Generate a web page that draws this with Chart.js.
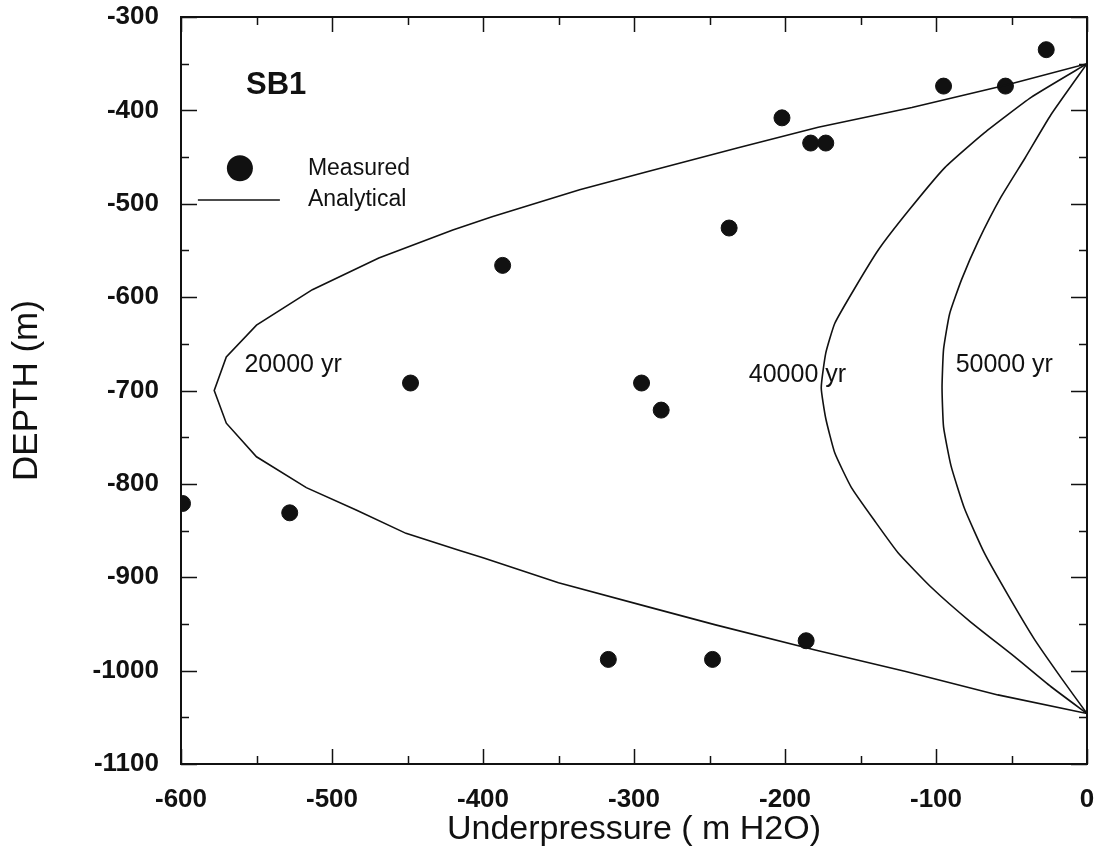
<!DOCTYPE html>
<html>
<head>
<meta charset="utf-8">
<script src="https://cdn.jsdelivr.net/npm/chart.js@4"></script>
<style>
  html, body { margin: 0; padding: 0; background: #fff; }
</style>
</head>
<body>
<canvas id="chart" width="1096" height="850"></canvas>
<script>
// axis ranges
const xMin = -600, xMax = 0;
const yMin = -1100, yMax = -300;

// measured underpressure (m H2O) and depth (m)
const measuredPressure = [-27, -95, -54, -202, -183, -173, -237, -387, -448, -295, -282, -599, -528, -186, -317, -248];
const measuredDepth = [-335, -374, -374, -408, -435, -435, -526, -566, -692, -692, -721, -821, -831, -968, -988, -988];

// analytical curves, 20000 yr
const p20000 = [0, -54, -116, -178, -231, -292, -336, -394, -420, -469, -513, -550, -570, -578, -570, -550, -517, -484, -451, -416, -400, -350, -290, -246, -180, -120, -59, 0];
const d20000 = [-350, -373, -397, -418, -440, -466, -485, -514, -528, -558, -592, -630, -664, -700, -735, -771, -804, -828, -853, -871, -879, -906, -932, -951, -978, -1001, -1026, -1046];

// 40000 yr
const p40000 = [0, -37, -68, -94, -118, -138, -154, -167, -173, -176, -173, -167, -156, -140, -125, -103, -77, -48, -24, 0];
const d40000 = [-350, -386, -424, -461, -507, -549, -591, -628, -660, -697, -730, -767, -804, -841, -874, -911, -948, -985, -1017, -1046];

// 50000 yr
const p50000 = [0, -24, -41, -57, -72, -83, -91, -95, -96, -95, -90, -81, -68, -52, -35, -17, 0];
const d50000 = [-350, -405, -451, -493, -540, -581, -618, -656, -697, -739, -781, -827, -874, -920, -966, -1008, -1046];

// text placed in data coordinates
const curveLabels = [
  { text: '20000 yr', x: -558, y: -673 },
  { text: '40000 yr', x: -224, y: -683 },
  { text: '50000 yr', x: -87, y: -673 }
];
const titleLabel = { text: 'SB1', x: -537, y: -373 };
const legendItems = [
  { text: 'Measured', x: -561, y: -462, kind: 'point' },
  { text: 'Analytical', x: -561, y: -496, kind: 'line' }
];

const ink = '#111';
const FONT = '"Liberation Sans", Arial, sans-serif';

function pts(xs, ys) {
  return xs.map((x, i) => ({ x: x, y: ys[i] }));
}

function noPadding(s) {
  s.paddingTop = 0; s.paddingBottom = 0;
  s.paddingLeft = 0; s.paddingRight = 0;
}

const framePlugin = {
  id: 'frame',
  afterDatasetsDraw(c) {
    const ctx = c.ctx;
    const xs = c.scales.x, ys = c.scales.y;
    const a = c.chartArea;
    ctx.save();
    ctx.strokeStyle = ink;
    ctx.lineWidth = 2;
    ctx.strokeRect(a.left, a.top, a.right - a.left, a.bottom - a.top);

    ctx.lineWidth = 1.5;
    for (let v = xMin; v <= xMax; v += 50) {
      const px = Math.round(xs.getPixelForValue(v)) + 0.5;
      const len = v % 100 === 0 ? 15 : 8;
      ctx.beginPath();
      ctx.moveTo(px, a.bottom); ctx.lineTo(px, a.bottom - len);
      ctx.moveTo(px, a.top); ctx.lineTo(px, a.top + len);
      ctx.stroke();
    }
    for (let v = yMin; v <= yMax; v += 50) {
      const py = Math.round(ys.getPixelForValue(v)) + 0.5;
      const len = v % 100 === 0 ? 16 : 8;
      ctx.beginPath();
      ctx.moveTo(a.left, py); ctx.lineTo(a.left + len, py);
      ctx.moveTo(a.right, py); ctx.lineTo(a.right - len, py);
      ctx.stroke();
    }

    // labels
    ctx.fillStyle = ink;
    ctx.textBaseline = 'middle';
    ctx.font = 'bold 31px ' + FONT;
    ctx.textAlign = 'center';
    ctx.fillText(titleLabel.text, xs.getPixelForValue(titleLabel.x), ys.getPixelForValue(titleLabel.y));

    ctx.textAlign = 'left';
    ctx.font = '25px ' + FONT;
    curveLabels.forEach(l => {
      ctx.fillText(l.text, xs.getPixelForValue(l.x), ys.getPixelForValue(l.y));
    });

    // legend
    legendItems.forEach(l => {
      const px = xs.getPixelForValue(l.x), py = ys.getPixelForValue(l.y);
      if (l.kind === 'point') {
        ctx.beginPath();
        ctx.arc(px, py, 13, 0, Math.PI * 2);
        ctx.fill();
      } else {
        ctx.lineWidth = 1.5;
        ctx.beginPath();
        ctx.moveTo(px - 42, py); ctx.lineTo(px + 40, py);
        ctx.stroke();
      }
      ctx.font = '23px ' + FONT;
      ctx.fillText(l.text, px + 68, py);
    });
    ctx.restore();
  }
};

const lineStyle = {
  showLine: true,
  pointRadius: 0,
  borderColor: ink,
  borderWidth: 1.6,
  fill: false
};

new Chart(document.getElementById('chart'), {
  type: 'scatter',
  data: {
    datasets: [
      Object.assign({ label: '20000 yr', data: pts(p20000, d20000), tension: 0 }, lineStyle),
      Object.assign({ label: '40000 yr', data: pts(p40000, d40000), tension: 0.15 }, lineStyle),
      Object.assign({ label: '50000 yr', data: pts(p50000, d50000), tension: 0.15 }, lineStyle),
      {
        label: 'Measured',
        data: pts(measuredPressure, measuredDepth),
        pointRadius: 8,
        pointBackgroundColor: ink,
        pointBorderColor: ink,
        showLine: false
      }
    ]
  },
  options: {
    responsive: false,
    animation: false,
    devicePixelRatio: 1,
    layout: { padding: { left: 0, right: 7, top: 17, bottom: 0 } },
    plugins: { legend: { display: false }, tooltip: { enabled: false } },
    scales: {
      x: {
        type: 'linear',
        min: xMin, max: xMax,
        grid: { display: false, drawTicks: false },
        border: { display: false },
        ticks: {
          stepSize: 50, autoSkip: false, maxRotation: 0, padding: 20,
          color: ink, font: { family: FONT, size: 26, weight: 'bold' },
          callback: v => (v % 100 === 0 ? v : '')
        },
        title: {
          display: true, text: 'Underpressure ( m H2O)', color: ink,
          font: { family: FONT, size: 34 }, padding: { top: 0, bottom: 0 }
        },
        afterFit: s => { s.height = 86; noPadding(s); }
      },
      y: {
        type: 'linear',
        min: yMin, max: yMax,
        grid: { display: false, drawTicks: false },
        border: { display: false },
        ticks: {
          stepSize: 50, autoSkip: false, padding: 22,
          color: ink, font: { family: FONT, size: 26, weight: 'bold' },
          callback: v => (v % 100 === 0 ? v : '')
        },
        title: {
          display: true, text: 'DEPTH (m)', color: ink,
          font: { family: FONT, size: 35 }, padding: { top: 6, bottom: 0 }
        },
        afterFit: s => { s.width = 181; noPadding(s); }
      }
    }
  },
  plugins: [framePlugin]
});
</script>
</body>
</html>
